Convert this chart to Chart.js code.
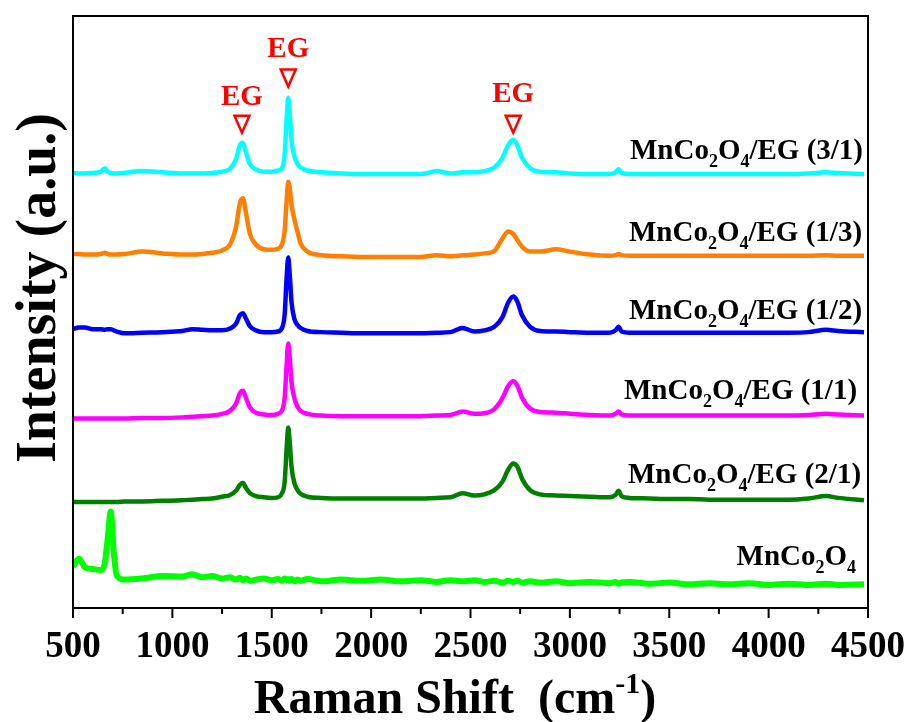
<!DOCTYPE html>
<html>
<head>
<meta charset="utf-8">
<script src="https://cdn.jsdelivr.net/npm/chart.js@4.4.1/dist/chart.umd.min.js"></script>
<style>
  html, body { margin: 0; padding: 0; background: #fff; }
  #wrap { width: 914px; height: 722px; }
</style>
</head>
<body>
<div id="wrap"><canvas id="raman" width="914" height="722"></canvas></div>
<script>
// Raman shift (cm-1) sample points
const shift = [500, 530, 560, 600, 640, 660, 675, 690, 705, 720,
    760, 850, 950, 1050, 1100, 1150, 1200, 1250, 1290, 1320,
    1340, 1355, 1370, 1390, 1420, 1460, 1500, 1530, 1550, 1565,
    1575, 1583, 1590, 1600, 1615, 1630, 1645, 1680, 1750, 1850,
    1950, 2050, 2150, 2250, 2330, 2400, 2460, 2520, 2570, 2620,
    2660, 2690, 2715, 2735, 2760, 2800, 2850, 2930, 3000, 3100,
    3200, 3230, 3245, 3260, 3300, 3400, 3500, 3600, 3700, 3800,
    3900, 4000, 4100, 4200, 4290, 4350, 4480];

// stacked intensities (a.u.)
const eg31 = [73.5, 73.4, 73.4, 73.5, 73.7, 74.3, 73.7, 73.5, 73.4, 73.4,
    73.5, 73.8, 73.6, 73.4, 73.4, 73.4, 73.5, 73.7, 74.2, 75.8,
    78.2, 78.6, 77.0, 75.0, 74.1, 73.7, 73.7, 73.9, 74.2, 76.6,
    82.6, 86.2, 83.6, 78.9, 76.2, 75.0, 74.4, 73.9, 73.6, 73.4,
    73.3, 73.3, 73.3, 73.3, 73.8, 73.4, 73.6, 73.6, 73.8, 74.4,
    76.0, 78.2, 79.1, 78.2, 76.0, 74.3, 73.7, 73.6, 73.4, 73.3,
    73.3, 73.6, 74.1, 73.5, 73.3, 73.3, 73.3, 73.3, 73.3, 73.3,
    73.3, 73.3, 73.3, 73.4, 73.6, 73.5, 73.3];
const eg13 = [59.8, 59.8, 59.7, 59.7, 59.8, 60.0, 59.8, 59.7, 59.7, 59.7,
    59.8, 60.2, 59.9, 59.7, 59.7, 59.8, 60.0, 60.4, 61.4, 64.3,
    68.4, 69.2, 66.8, 63.2, 61.4, 60.6, 60.5, 60.7, 61.3, 63.7,
    68.8, 72.0, 71.0, 68.0, 65.5, 63.5, 61.6, 60.2, 59.6, 59.4,
    59.3, 59.3, 59.3, 59.3, 59.6, 59.4, 59.6, 59.7, 59.9, 60.3,
    62.4, 63.6, 63.2, 62.2, 61.0, 60.2, 60.2, 60.6, 60.2, 59.7,
    59.5, 59.6, 59.8, 59.6, 59.5, 59.5, 59.5, 59.5, 59.5, 59.5,
    59.5, 59.5, 59.5, 59.5, 59.6, 59.5, 59.5];
const eg12 = [47.1, 47.4, 47.4, 47.1, 47.1, 47.0, 47.1, 47.1, 46.9, 46.7,
    46.4, 46.5, 46.6, 46.8, 47.1, 47.0, 46.9, 46.9, 47.2, 48.0,
    49.5, 49.8, 48.9, 47.6, 46.9, 46.6, 46.6, 46.7, 47.2, 49.6,
    55.9, 59.2, 56.5, 51.5, 48.7, 47.8, 47.3, 46.8, 46.6, 46.5,
    46.4, 46.4, 46.4, 46.4, 46.5, 46.6, 47.3, 46.7, 46.9, 47.5,
    49.1, 51.6, 52.6, 51.8, 49.4, 47.5, 46.8, 46.7, 46.6, 46.5,
    46.5, 46.9, 47.5, 46.7, 46.5, 46.5, 46.5, 46.5, 46.5, 46.5,
    46.5, 46.5, 46.5, 46.6, 47.0, 46.8, 46.6];
const eg11 = [32.0, 32.0, 32.0, 32.0, 32.0, 32.0, 32.0, 32.0, 32.0, 32.0,
    32.0, 32.1, 32.1, 32.2, 32.3, 32.4, 32.5, 32.8, 33.3, 34.5,
    36.3, 36.7, 35.5, 33.9, 33.0, 32.7, 32.6, 32.8, 33.3, 35.5,
    41.1, 44.7, 42.5, 38.0, 35.3, 34.0, 33.3, 32.8, 32.5, 32.4,
    32.4, 32.4, 32.4, 32.4, 32.5, 32.6, 33.2, 32.8, 32.9, 33.6,
    35.4, 37.5, 38.3, 37.6, 35.5, 33.7, 33.1, 33.0, 32.8, 32.6,
    32.5, 32.8, 33.2, 32.7, 32.5, 32.5, 32.5, 32.5, 32.5, 32.5,
    32.5, 32.5, 32.5, 32.6, 32.8, 32.7, 32.5];
const eg21 = [17.9, 17.9, 17.9, 17.9, 17.9, 17.9, 17.9, 17.9, 17.9, 17.9,
    18.0, 18.0, 18.1, 18.2, 18.3, 18.4, 18.5, 18.8, 19.1, 19.8,
    20.8, 21.1, 20.3, 19.4, 18.9, 18.7, 18.6, 18.7, 19.3, 21.3,
    27.0, 30.5, 28.2, 23.7, 21.0, 19.9, 19.3, 18.8, 18.6, 18.5,
    18.5, 18.5, 18.5, 18.5, 18.6, 18.7, 19.4, 19.0, 19.2, 19.9,
    21.3, 23.4, 24.4, 23.9, 21.8, 19.9, 19.2, 19.0, 18.9, 18.8,
    18.7, 19.1, 19.8, 18.9, 18.6, 18.5, 18.4, 18.4, 18.3, 18.3,
    18.3, 18.3, 18.3, 18.5, 18.9, 18.6, 18.2];
const pure = [7.0, 8.3, 6.9, 6.6, 6.4, 7.6, 11.8, 16.3, 9.5, 5.5,
    4.8, 5.0, 5.4, 5.3, 5.7, 5.2, 5.4, 5.0, 5.2, 4.8,
    5.1, 4.7, 5.0, 4.6, 4.8, 5.0, 4.7, 4.9, 4.6, 5.0,
    4.7, 4.9, 4.6, 4.9, 4.5, 4.8, 4.6, 4.9, 4.5, 4.8,
    4.6, 4.8, 4.5, 4.7, 4.4, 4.7, 4.5, 4.7, 4.4, 4.6,
    4.3, 4.6, 4.4, 4.6, 4.3, 4.5, 4.3, 4.5, 4.2, 4.4,
    4.2, 4.4, 4.1, 4.3, 4.4, 4.1, 4.3, 4.0, 4.2, 4.0,
    4.2, 3.9, 4.1, 3.9, 4.1, 3.9, 4.0];

const sampleNames = ['MnCo2O4/EG (3/1)', 'MnCo2O4/EG (1/3)', 'MnCo2O4/EG (1/2)',
    'MnCo2O4/EG (1/1)', 'MnCo2O4/EG (2/1)', 'MnCo2O4'];
const seriesValues = [eg31, eg13, eg12, eg11, eg21, pure];
const xTicks = [500, 1000, 1500, 2000, 2500, 3000, 3500, 4000, 4500];

const lineColors = ['#00FFFF', '#FF8000', '#0000FF', '#FF00FF', '#008000', '#00FF00'];
const lineWidths = [4.5, 4.5, 4.5, 4.5, 4.5, 6];
// where each sample name sits (x right edge, baseline in y units)
const nameRight = [4475, 4470, 4470, 4445, 4465, 4440];
const nameLevel = [75.8, 62.0, 48.8, 35.3, 21.1, 7.3];
// EG peak markers
const egShift = [1350, 1583, 2715];
const egTextLevel = [86.3, 94.3, 86.8];
const egMarkLevel = [81.8, 89.6, 81.8];

const SERIF = '"Liberation Serif", "Times New Roman", serif';

// split a formula so digits right after a letter become subscripts
function chemParts(str) {
    const parts = [];
    for (let i = 0; i < str.length; i++) {
        const ch = str[i];
        const sub = /[0-9]/.test(ch) && i > 0 && /[A-Za-z]/.test(str[i - 1]);
        if (parts.length && parts[parts.length - 1].sub === sub) parts[parts.length - 1].t += ch;
        else parts.push({ t: ch, sub: sub });
    }
    return parts;
}

function drawRich(ctx, parts, xRight, yBase, size, subSize, subShift) {
    let w = 0;
    parts.forEach(p => {
        ctx.font = 'bold ' + (p.sub ? subSize : size) + 'px ' + SERIF;
        p.w = ctx.measureText(p.t).width;
        w += p.w;
    });
    let x = xRight - w;
    parts.forEach(p => {
        ctx.font = 'bold ' + (p.sub ? subSize : size) + 'px ' + SERIF;
        ctx.fillText(p.t, x, yBase + (p.sub ? subShift : 0));
        x += p.w;
    });
}

const decor = {
    id: 'decor',
    afterDraw(chart) {
        const ctx = chart.ctx;
        const xs = chart.scales.x, ys = chart.scales.y;
        const a = chart.chartArea;
        ctx.save();

        // frame
        ctx.strokeStyle = '#000';
        ctx.lineWidth = 2;
        ctx.strokeRect(a.left, a.top, a.right - a.left, a.bottom - a.top);

        // major and minor ticks pointing out of the box, with labels
        ctx.fillStyle = '#000';
        ctx.textAlign = 'center';
        ctx.textBaseline = 'alphabetic';
        ctx.font = 'bold 37px ' + SERIF;
        xTicks.forEach((v, i) => {
            const px = xs.getPixelForValue(v);
            ctx.beginPath();
            ctx.moveTo(px, a.bottom);
            ctx.lineTo(px, a.bottom + 10);
            ctx.stroke();
            ctx.fillText(String(v), px, a.bottom + 49);
            if (i < xTicks.length - 1) {
                const pm = xs.getPixelForValue(v + 250);
                ctx.beginPath();
                ctx.moveTo(pm, a.bottom);
                ctx.lineTo(pm, a.bottom + 6);
                ctx.stroke();
            }
        });

        // sample names
        ctx.textAlign = 'left';
        sampleNames.forEach((name, i) => {
            drawRich(ctx, chemParts(name), xs.getPixelForValue(nameRight[i]),
                ys.getPixelForValue(nameLevel[i]), 29, 18, 8);
        });

        // EG markers
        ctx.fillStyle = '#FF0000';
        ctx.strokeStyle = '#FF0000';
        ctx.lineWidth = 2.5;
        ctx.textAlign = 'center';
        ctx.textBaseline = 'middle';
        ctx.font = 'bold 29px ' + SERIF;
        egShift.forEach((s, i) => {
            const px = xs.getPixelForValue(s);
            ctx.fillText('EG', px, ys.getPixelForValue(egTextLevel[i]));
            const cy = ys.getPixelForValue(egMarkLevel[i]);
            ctx.beginPath();
            ctx.moveTo(px - 7.5, cy - 8);
            ctx.lineTo(px + 7.5, cy - 8);
            ctx.lineTo(px, cy + 9);
            ctx.closePath();
            ctx.stroke();
        });

        // axis titles
        ctx.fillStyle = '#000';
        ctx.textAlign = 'left';
        ctx.textBaseline = 'alphabetic';
        const tParts = [{ t: 'Raman Shift  (cm', s: 48, dy: 0 }, { t: '-1', s: 30, dy: -20 }, { t: ')', s: 48, dy: 0 }];
        let tw = 0;
        tParts.forEach(p => { ctx.font = 'bold ' + p.s + 'px ' + SERIF; p.w = ctx.measureText(p.t).width; tw += p.w; });
        let tx = 455 - tw / 2;
        tParts.forEach(p => {
            ctx.font = 'bold ' + p.s + 'px ' + SERIF;
            ctx.fillText(p.t, tx, 713 + p.dy);
            tx += p.w;
        });

        ctx.translate(55, 288);
        ctx.rotate(-Math.PI / 2);
        ctx.textAlign = 'center';
        ctx.font = 'bold 56px ' + SERIF;
        ctx.fillText('Intensity (a.u.)', 0, 0);
        ctx.restore();
    }
};

const ctx = document.getElementById('raman').getContext('2d');
new Chart(ctx, {
    type: 'line',
    data: {
        datasets: seriesValues.map((vals, i) => ({
            label: sampleNames[i],
            data: shift.map((x, j) => ({ x: x, y: vals[j] })),
            borderColor: lineColors[i],
            borderWidth: lineWidths[i],
            pointRadius: 0,
            fill: false,
            cubicInterpolationMode: 'monotone'
        }))
    },
    options: {
        responsive: false,
        animation: false,
        layout: { padding: { left: 73, right: 46, top: 16, bottom: 0 } },
        plugins: {
            legend: { display: false },
            tooltip: { enabled: false }
        },
        scales: {
            x: {
                type: 'linear',
                min: 500,
                max: 4500,
                grid: { display: false, drawTicks: false },
                border: { display: false },
                ticks: { display: false },
                afterFit: (s) => { s.height = 114; }
            },
            y: {
                display: false,
                min: 0,
                max: 100
            }
        }
    },
    plugins: [decor]
});
</script>
</body>
</html>
